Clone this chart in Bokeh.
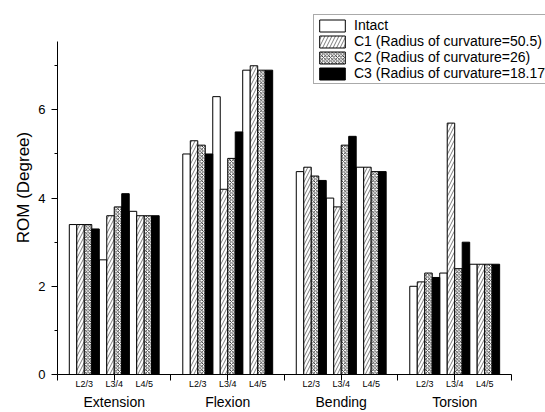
import numpy as np
from bokeh.plotting import figure
from bokeh.models import FixedTicker, LinearAxis, ColumnDataSource, Range1d
from bokeh.embed import file_html
from bokeh.resources import INLINE

# ---- data ----
groups = ["Extension", "Flexion", "Bending", "Torsion"]
levels = ["L2/3", "L3/4", "L4/5"]
series = ["Intact", "C1 (Radius of curvature=50.5)",
          "C2 (Radius of curvature=26)", "C3 (Radius of curvature=18.17)"]

# values ordered: Extension L2/3, L3/4, L4/5, Flexion ..., Bending ..., Torsion ...
intact = [3.4, 2.6, 3.7, 5.0, 6.3, 6.9, 4.6, 4.0, 4.7, 2.0, 2.3, 2.5]
c1 = [3.4, 3.6, 3.6, 5.3, 4.2, 7.0, 4.7, 3.8, 4.7, 2.1, 5.7, 2.5]
c2 = [3.4, 3.8, 3.6, 5.2, 4.9, 6.9, 4.5, 5.2, 4.6, 2.3, 2.4, 2.5]
c3 = [3.3, 4.1, 3.6, 5.0, 5.5, 6.9, 4.4, 5.4, 4.6, 2.2, 3.0, 2.5]

y_ticks = [0, 2, 4, 6]
y_minor = [1, 3, 5, 7]
y_axis_end = 7.56

SUB = 0.264   # spacing between vertebral levels inside a group
BAR = 0.066   # bar width

sub_x = [round(g + 1 + (s - 1) * SUB, 4) for g in range(len(groups)) for s in range(len(levels))]
group_x = [g + 1 for g in range(len(groups))]
sep_x = [0.5 + 0.5 * i for i in range(2 * len(groups) + 1)]

FONT = "Liberation Sans"

p = figure(width=545, height=412,
           x_range=Range1d(0.5, 4.8), y_range=Range1d(0, 8.48),
           output_backend="svg", toolbar_location=None,
           min_border_left=57, min_border_right=0,
           min_border_top=0, min_border_bottom=38)
p.outline_line_color = None
p.grid.visible = False
p.background_fill_color = "white"
p.border_fill_color = "white"

styles = [
    dict(fill_color="white", hatch_pattern=None),
    dict(fill_color="white", hatch_pattern="/", hatch_scale=7, hatch_weight=0.6, hatch_color="#222222"),
    dict(fill_color="white", hatch_pattern="x", hatch_scale=3.5, hatch_weight=0.8, hatch_color="#111111"),
    dict(fill_color="black", hatch_pattern=None),
]
all_vals = [intact, c1, c2, c3]

for k, (name, vals, st) in enumerate(zip(series, all_vals, styles)):
    xs = [sx + (k - 1.5) * BAR for sx in sub_x]
    src = ColumnDataSource(dict(x=xs, top=vals))
    p.vbar(x="x", top="top", width=BAR, source=src,
           line_color="black", line_width=1, legend_label=name, **st)

# x axis: level labels + tick marks
xa = p.xaxis[0]
xa.bounds = (0.5, 4.5)
xa.ticker = FixedTicker(ticks=sub_x, minor_ticks=sep_x)
xa.major_label_overrides = {x: lab for x, lab in zip(sub_x, levels * len(groups))}
xa.major_tick_line_color = None
xa.major_tick_out = 0
xa.major_tick_in = 0
xa.minor_tick_line_color = "black"
xa.minor_tick_out = 6
xa.minor_tick_in = 0
xa.axis_line_color = "black"
xa.axis_line_width = 1
xa.major_label_text_font = FONT
xa.major_label_text_font_size = "9px"
xa.major_label_text_color = "black"
xa.major_label_text_line_height = 1.0
xa.major_label_standoff = -2

# group names axis
gax = LinearAxis(ticker=FixedTicker(ticks=group_x, minor_ticks=[]),
                 major_label_overrides={x: g for x, g in zip(group_x, groups)})
gax.bounds = (0.5, 4.5)
gax.axis_line_color = None
gax.major_tick_line_color = None
gax.minor_tick_line_color = None
gax.major_tick_out = 0
gax.major_tick_in = 0
gax.major_label_text_font = FONT
gax.major_label_text_font_size = "14px"
gax.major_label_text_color = "black"
gax.major_label_text_line_height = 1.0
gax.major_label_standoff = 2
p.add_layout(gax, "below")

# y axis
ya = p.yaxis[0]
ya.bounds = (0, y_axis_end)
ya.ticker = FixedTicker(ticks=y_ticks, minor_ticks=y_minor)
ya.major_tick_out = 6
ya.major_tick_in = 0
ya.minor_tick_out = 3
ya.minor_tick_in = 0
ya.major_tick_line_color = "black"
ya.minor_tick_line_color = "black"
ya.axis_line_color = "black"
ya.major_label_text_font = FONT
ya.major_label_text_font_size = "13px"
ya.major_label_text_color = "black"
ya.major_label_standoff = 6
ya.axis_label = "ROM (Degree)"
ya.axis_label_text_font = FONT
ya.axis_label_text_font_size = "17px"
ya.axis_label_text_font_style = "normal"
ya.axis_label_text_color = "black"
ya.axis_label_standoff = 2

# legend
lg = p.legend[0]
lg.location = (256, 290)
lg.glyph_width = 32
lg.glyph_height = 15
lg.label_height = 15
lg.spacing = 0
lg.padding = 2
lg.margin = 0
lg.label_standoff = 6
lg.label_text_font = FONT
lg.label_text_font_size = "14px"
lg.label_text_color = "black"
lg.border_line_color = "#555555"
lg.border_line_width = 1
lg.background_fill_color = "white"
lg.background_fill_alpha = 1.0

open("out.html", "w").write(file_html(p, INLINE))
